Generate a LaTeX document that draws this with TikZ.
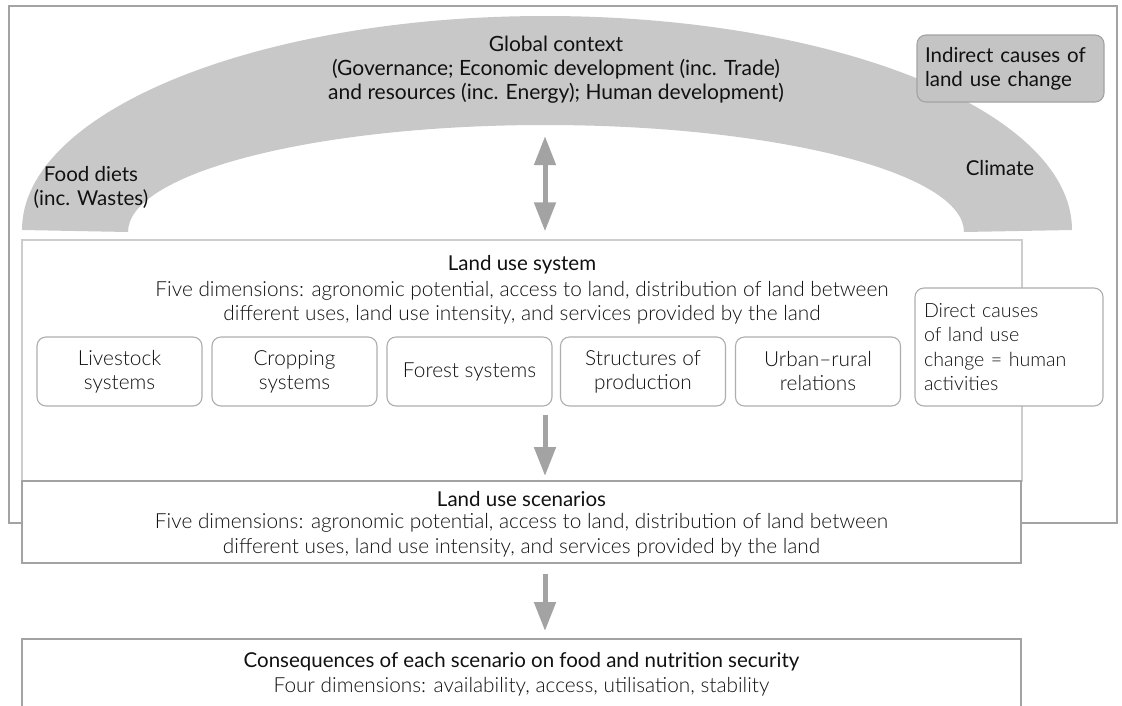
\documentclass[tikz,border=0pt]{standalone}
\usepackage{fontspec}
\setmainfont{Lato}
\newfontfamily\lightfont{Lato Light}[Ligatures=TeX]
\usetikzlibrary{arrows.meta,positioning}

\definecolor{bandgray}{HTML}{C8C8C8}
\definecolor{linegray}{HTML}{A3A3A3}
\definecolor{palegray}{HTML}{CDCDCD}
\definecolor{textgray}{HTML}{111111}

\tikzset{
  frame/.style={draw=linegray, line width=2pt, inner sep=0pt},
  palebox/.style={draw=palegray, line width=1.4pt, inner sep=0pt},
  sysbox/.style={draw=palegray!85!black, fill=white, line width=1.1pt, rounded corners=9pt,
    minimum width=165pt, minimum height=69pt, inner sep=2pt, align=center,
    font=\lightfont\fontsize{20.8}{24}\selectfont, text=textgray},
  title/.style={font=\fontsize{20.5}{24}\selectfont, text=textgray, align=center},
  body/.style={font=\lightfont\fontsize{20.8}{24.5}\selectfont, text=textgray, align=center},
  bigarrow/.style={draw=linegray, line width=5pt,
    -{Triangle[width=21pt,length=29pt]}},
  twoway/.style={draw=linegray, line width=5pt,
    {Triangle[width=21pt,length=29pt]}-{Triangle[width=21pt,length=29pt]}},
}

\begin{document}
\begin{tikzpicture}[x=1pt, y=-1pt]
  \useasboundingbox (0,0) rectangle (1122,705);
  \fill[white] (0,0) rectangle (1122,705);

  % outer frame
  \node[frame, minimum width=1108pt, minimum height=517pt] (outer) at (563,264.5) {};

  % global context band
  \fill[bandgray] (22,230) arc[start angle=180, end angle=270, x radius=523, y radius=214]
    arc[start angle=270, end angle=360, x radius=527, y radius=214]
    -- (964,232) arc[start angle=360, end angle=270, x radius=419, y radius=107]
    arc[start angle=270, end angle=180, x radius=417, y radius=107] -- cycle;
  \coordinate (axis) at (545,0);

  \node[title, font=\fontsize{21}{24}\selectfont] (global) at (556,70) {Global context\\(Governance; Economic development (inc. Trade)\\and resources (inc. Energy); Human development)};
  \node[title] (diets) at (91,187) {Food diets\\(inc. Wastes)};
  \node[title] (climate) at (1000,168) {Climate};
  \node[draw=linegray, fill=bandgray!98!black, line width=1.1pt, rounded corners=9pt,
    minimum width=187pt, minimum height=67pt, inner sep=0pt, title, align=left,
    text width=171pt] (indirect) at (1010.5,68.5)
    {Indirect causes of\\land use change};

  % land use system
  \node[palebox, minimum width=1000pt, minimum height=241pt] (lus) at (522,360.5) {};
  \node[title] (lustitle) at (522,265) {Land use system};
  \node[body] (lusdims) at (522,303) {Five dimensions: agronomic potential, access to land, distribution of land between\\different uses, land use intensity, and services provided by the land};

  \node[sysbox] (livestock) at (119.5,371.5) {Livestock\\systems};
  \node[sysbox] (cropping) at (294.5,371.5) {Cropping\\systems};
  \node[sysbox] (forest) at (469.5,371.5) {Forest systems};
  \node[sysbox] (structures) at (643,371.5) {Structures of\\production};
  \node[sysbox] (urban) at (818,371.5) {Urban–rural\\relations};
  \node[sysbox, minimum width=188pt, minimum height=118pt, align=left, text width=170pt,
    font=\lightfont\fontsize{19.6}{24.5}\selectfont]
    (direct) at (1009,347) {Direct causes\\of land use\\change = human\\activities};

  % scenarios and consequences
  \node[frame, fill=white, minimum width=999pt, minimum height=82pt] (scen) at (521.5,522) {};
  \node[title] (scentitle) at (521.5,499) {Land use scenarios};
  \node[body] (scendims) at (521.5,535.5) {Five dimensions: agronomic potential, access to land, distribution of land between\\different uses, land use intensity, and services provided by the land};

  \node[frame, minimum width=999pt, minimum height=100pt] (cons) at (521.5,689) {};
  \node[title] (constitle) at (521.5,662) {Consequences of each scenario on food and nutrition security};
  \node[body] (consdims) at (521.5,687) {Four dimensions: availability, access, utilisation, stability};

  % arrows
  \draw[twoway, shorten <=29pt, shorten >=8pt] (axis |- global.south) -- (axis |- lus.north);
  \draw[bigarrow, shorten <=8pt, shorten >=4pt] (axis |- forest.south) -- (axis |- scen.north);
  \draw[bigarrow, shorten <=10pt, shorten >=7pt] (axis |- scen.south) -- (axis |- cons.north);
\end{tikzpicture}
\end{document}
